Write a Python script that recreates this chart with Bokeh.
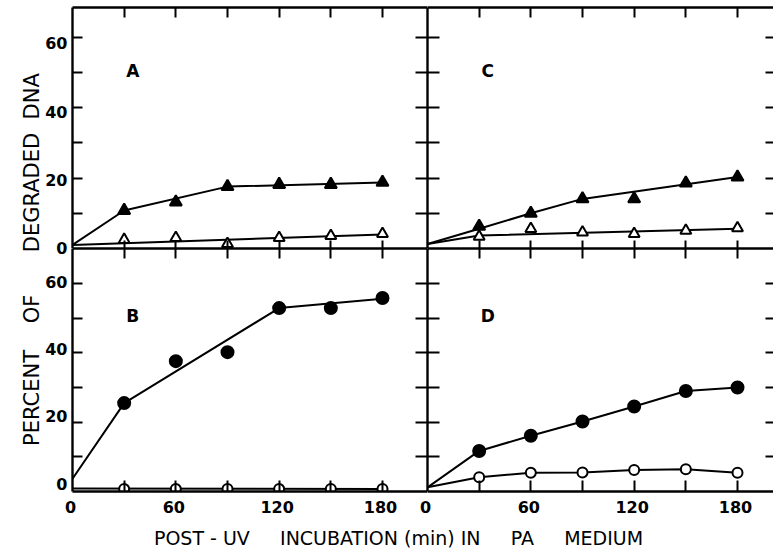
from bokeh.plotting import figure
from bokeh.models import Range1d, LinearAxis, FixedTicker, GridPlot, Toolbar
from bokeh.core.properties import value
from bokeh.embed import file_html
from bokeh.resources import INLINE
import math

# ---------------- data ----------------
t = [30, 60, 90, 120, 150, 180]

# Panel A (triangles)
A_filled = [10.8, 13.2, 17.6, 18.2, 18.2, 18.8]
A_filled_fit_t = [0, 30, 90, 180]
A_filled_fit = [1.0, 10.8, 17.6, 18.8]
A_open = [2.5, 3.0, 1.3, 3.0, 3.6, 4.2]
A_open_fit_t = [0, 180]
A_open_fit = [1.0, 4.0]

# Panel C (triangles)
C_filled = [6.3, 10.0, 14.1, 14.1, 18.6, 20.3]
C_filled_fit_t = [0, 30, 60, 90, 180]
C_filled_fit = [1.3, 5.6, 10.0, 14.1, 20.3]
C_open = [3.4, 5.6, 4.6, 4.2, 5.1, 5.8]
C_open_fit_t = [0, 30, 180]
C_open_fit = [1.3, 3.7, 5.6]

# Panel B (circles)
B_filled = [25.5, 37.6, 40.2, 52.9, 52.9, 55.8]
B_filled_fit_t = [0, 30, 120, 180]
B_filled_fit = [3.7, 25.5, 52.9, 55.6]
B_open = [0.7, 0.7, 0.7, 0.7, 0.7, 0.7]
B_open_fit_t = [0, 180]
B_open_fit = [0.9, 0.7]

# Panel D (circles)
D_filled = [11.7, 16.1, 20.2, 24.5, 29.0, 30.0]
D_filled_fit_t = [0, 30, 60, 90, 120, 150, 180]
D_filled_fit = [1.2, 11.7, 16.1, 20.2, 24.5, 29.0, 30.0]
D_open = [4.1, 5.4, 5.5, 6.2, 6.4, 5.4]
D_open_fit_t = [0, 30, 60, 90, 120, 150, 180]
D_open_fit = [1.2, 4.1, 5.4, 5.5, 6.2, 6.4, 5.4]

# ticks and tick labels
x_label_ticks = [0, 60, 120, 180]
x_label_text = ["0", "60", "120", "180"]
x_tick_marks = [30, 60, 90, 120, 150, 180]
y_label_ticks = [0, 20, 40, 60]
y_label_text = ["0", "20", "40", "60"]
y_tick_marks = [10, 20, 30, 40, 50, 60]

panel_letters = ["A", "B", "C", "D"]
NB = "\u00a0"
x_title = "POST - UV" + NB * 4 + " INCUBATION (min) IN" + NB * 4 + " PA" + NB * 4 + " MEDIUM"
# the vertical title runs over both rows: lower part beside B, upper part beside A
y_title_parts = ["PERCENT" + NB * 3 + " OF", "DEGRADED" + NB + " DNA"]

FONT = "DejaVu Sans"
INK = "black"

# ---------------- geometry (pixels) ----------------
PX_X = 310 / 180.0        # px per minute
PX_YT = 3.517             # px per percent, top row
PX_YB = 3.467             # px per percent, bottom row
LEFT_W = 355              # left frame width
RIGHT_W = 346             # right frame width
TOP_H = 241               # top frame height
BOT_H = 243               # bottom frame height
X0_LEFT = 72              # pixel of t=0, left column
X0_RIGHT = 427            # pixel of t=0, right column
Y0_TOP = 248              # pixel of 0 %, top row
Y0_BOT = 491              # pixel of 0 %, bottom row
BOT_PAD = 8               # white strip under bottom frames
YLAB_W = 70
ROWS_H = Y0_BOT + BOT_PAD
W, H = 773, 549
XLAB_H = H - ROWS_H

XL = (0, LEFT_W / PX_X)
XR = (0, RIGHT_W / PX_X)
YT = (0, TOP_H / PX_YT)
YB = (0, BOT_H / PX_YB)


def base_fig(w, h, xr, yr, left=0, right=0, top=0, bottom=0):
    p = figure(width=w, height=h, x_range=Range1d(*xr), y_range=Range1d(*yr),
               x_axis_location=None, y_axis_location=None,
               output_backend="svg", toolbar_location=None,
               min_border_left=left, min_border_right=right,
               min_border_top=top, min_border_bottom=bottom)
    p.grid.visible = False
    p.outline_line_color = None
    p.background_fill_color = "white"
    p.border_fill_color = "white"
    return p


def add_axis(p, side, marks, tin, line=True):
    ax = LinearAxis(ticker=FixedTicker(ticks=[], minor_ticks=marks))
    ax.major_tick_in = tin
    ax.major_tick_out = 0
    ax.minor_tick_in = tin
    ax.minor_tick_out = 0
    ax.major_label_standoff = 0
    ax.axis_line_width = 2.4
    ax.minor_tick_line_width = 2
    ax.major_tick_line_width = 2
    ax.axis_line_color = INK if line else None
    ax.minor_tick_line_color = INK
    ax.major_tick_line_color = INK
    p.add_layout(ax, side)
    return ax


def series(p, xs, ys, fx, fy, marker, filled, size):
    p.line(fx, fy, line_color=INK, line_width=2)
    p.scatter(xs, ys, marker=marker, size=size,
              fill_color=INK if filled else "white",
              line_color=INK, line_width=2)


def letter(p, s):
    p.text(x=[35], y=[50.5], text=[s], text_font=value(FONT),
           text_font_size="17px", text_font_style="bold",
           text_align="center", text_baseline="middle", text_color=INK)


# ---------------- panels ----------------
A = base_fig(LEFT_W + 2, TOP_H + 7, XL, YT, left=2, top=7)
add_axis(A, "left", y_tick_marks, 10)
add_axis(A, "above", x_tick_marks, 10)
add_axis(A, "below", x_tick_marks, 8)
add_axis(A, "right", y_tick_marks, 12)
series(A, t, A_filled, A_filled_fit_t, A_filled_fit, "triangle", True, 12)
series(A, t, A_open, A_open_fit_t, A_open_fit, "triangle", False, 11)
letter(A, panel_letters[0])

C = base_fig(RIGHT_W, TOP_H + 7, XR, YT, top=7)
add_axis(C, "left", y_tick_marks, 12)
add_axis(C, "above", x_tick_marks, 10)
add_axis(C, "below", x_tick_marks, 8)
add_axis(C, "right", y_tick_marks, 8, line=False)
series(C, t, C_filled, C_filled_fit_t, C_filled_fit, "triangle", True, 12)
series(C, t, C_open, C_open_fit_t, C_open_fit, "triangle", False, 11)
letter(C, panel_letters[2])

B = base_fig(LEFT_W + 2, BOT_H + BOT_PAD, XL, YB, left=2, bottom=BOT_PAD)
add_axis(B, "left", y_tick_marks, 10)
add_axis(B, "above", x_tick_marks, 10)
add_axis(B, "below", x_tick_marks, 11)
add_axis(B, "right", y_tick_marks, 12)
series(B, t, B_filled, B_filled_fit_t, B_filled_fit, "circle", True, 12)
series(B, t, B_open, B_open_fit_t, B_open_fit, "circle", False, 10)
letter(B, panel_letters[1])

D = base_fig(RIGHT_W, BOT_H + BOT_PAD, XR, YB, bottom=BOT_PAD)
add_axis(D, "left", y_tick_marks, 12)
add_axis(D, "above", x_tick_marks, 10)
add_axis(D, "below", x_tick_marks, 11)
add_axis(D, "right", y_tick_marks, 8, line=False)
series(D, t, D_filled, D_filled_fit_t, D_filled_fit, "circle", True, 12)
series(D, t, D_open, D_open_fit_t, D_open_fit, "circle", False, 10)
letter(D, panel_letters[3])

# ---------------- y tick labels + y title (left strip) ----------------
ylab = base_fig(YLAB_W, ROWS_H, (0, YLAB_W),
                (-(ROWS_H - Y0_TOP) / PX_YT, Y0_TOP / PX_YT))
ylab.extra_y_ranges = {"bot": Range1d(-(ROWS_H - Y0_BOT) / PX_YB, Y0_BOT / PX_YB)}
tick_style = dict(text_font=value(FONT), text_font_size="16px",
                  text_font_style="bold", text_color=INK)
ylab.text(x=[67] * 4, y=y_label_ticks, text=y_label_text,
          text_align="right", text_baseline="middle", **tick_style)
ylab.text(x=[67] * 4, y=y_label_ticks, text=y_label_text, y_range_name="bot",
          text_align="right", text_baseline="middle", **tick_style)
title_style = dict(text_font=value(FONT), text_font_size="21px",
                   text_align="center", text_baseline="middle", text_color=INK)
ylab.text(x=[31], y=[(Y0_BOT - 374) / PX_YB], text=[y_title_parts[0]],
          angle=math.pi / 2, y_range_name="bot", **title_style)
ylab.text(x=[31], y=[(Y0_TOP - 160) / PX_YT], text=[y_title_parts[1]],
          angle=math.pi / 2, **title_style)

# ---------------- x tick labels + x title (bottom strip) ----------------
xlab = base_fig(W, XLAB_H, (-X0_LEFT / PX_X, (W - X0_LEFT) / PX_X), (0, XLAB_H))
xlab.extra_x_ranges = {"right": Range1d(-X0_RIGHT / PX_X, (W - X0_RIGHT) / PX_X)}
xlab.text(x=x_label_ticks, y=[XLAB_H - 7] * 4, text=x_label_text, x_offset=-2,
          text_align="center", text_baseline="middle", **tick_style)
xlab.text(x=x_label_ticks, y=[XLAB_H - 7] * 4, text=x_label_text, x_offset=-2,
          x_range_name="right",
          text_align="center", text_baseline="middle", **tick_style)
xlab.text(x=[(398 - X0_LEFT) / PX_X], y=[12], text=[x_title],
          text_font=value(FONT), text_font_size="19px",
          text_align="center", text_baseline="middle", text_color=INK)

grid = GridPlot(children=[(ylab, 0, 0, 2, 1), (A, 0, 1), (C, 0, 2),
                          (B, 1, 1), (D, 1, 2), (xlab, 2, 0, 1, 3)],
                toolbar=Toolbar(), toolbar_location=None, spacing=0)

open("out.html", "w").write(file_html(grid, INLINE))
